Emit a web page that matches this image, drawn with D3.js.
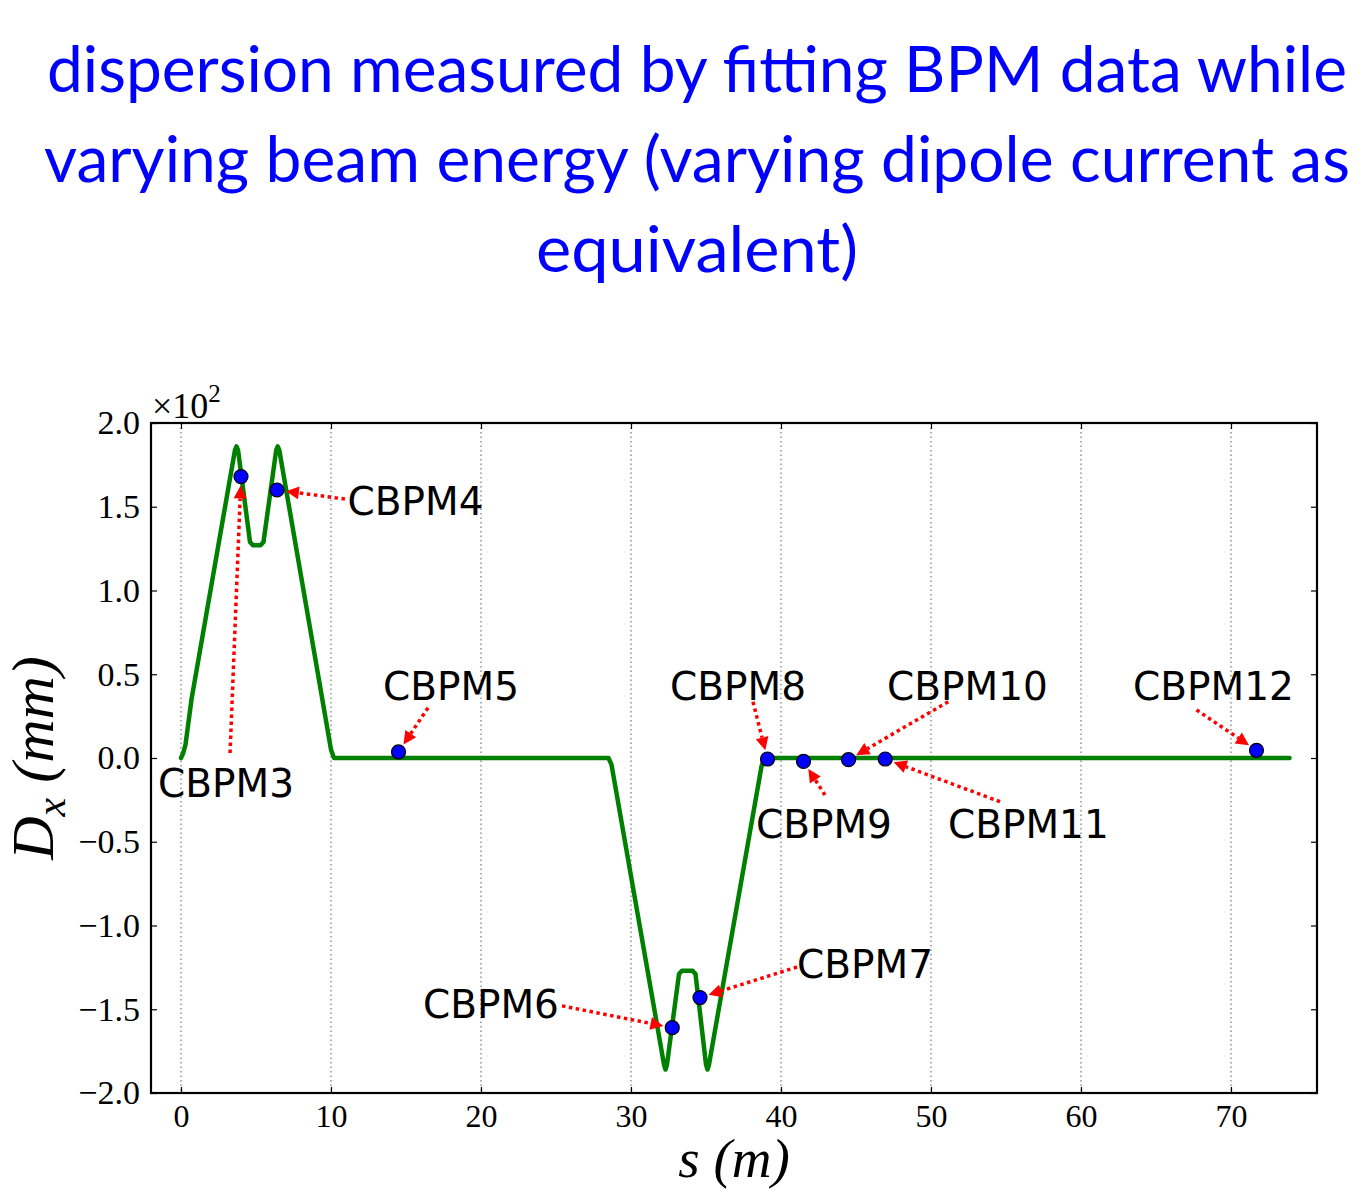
<!DOCTYPE html>
<html>
<head>
<meta charset="utf-8">
<script src="https://cdn.jsdelivr.net/npm/d3@7"></script>
<style>
  body { margin: 0; background: #fff; }
</style>
</head>
<body>
<div id="chart"></div>
<script>
// title lines
var titleLines = [
  "dispersion measured by fitting BPM data while",
  "varying beam energy (varying dipole current as",
  "equivalent)"
];

// dispersion curve, s in m, D in units of 10^2 mm
var curveS = [0, 0.15, 0.3, 0.7, 3.6, 3.7, 3.8, 4.6, 4.8, 5.3, 5.5, 6.35, 6.45, 6.55, 10.0, 10.2,
              28.5, 28.7, 32.2, 32.3, 32.4, 33.2, 33.4, 34.1, 34.3, 35.0, 35.1, 35.2, 38.7, 38.9, 73.9];
var curveD = [0, 0.03, 0.08, 0.35, 1.84, 1.86, 1.84, 1.29, 1.27, 1.27, 1.29, 1.84, 1.86, 1.84, 0.05, 0,
              0, -0.04, -1.83, -1.86, -1.83, -1.29, -1.27, -1.27, -1.29, -1.83, -1.86, -1.83, -0.05, 0, 0];

// measured BPM points
var bpmNames = ["CBPM3", "CBPM4", "CBPM5", "CBPM6", "CBPM7", "CBPM8", "CBPM9", "CBPM10", "CBPM11", "CBPM12"];
var bpmS = [4.0, 6.4, 14.5, 32.75, 34.6, 39.1, 41.5, 44.5, 46.95, 71.7];
var bpmD = [1.68, 1.60, 0.036, -1.61, -1.43, -0.006, -0.02, -0.01, -0.006, 0.046];

// annotation text anchors (left, baseline) and arrow tails, in data units
var labelS = [-1.53, 11.1, 13.47, 16.13, 41.07, 32.6, 38.33, 47.07, 51.13, 63.47];
var labelD = [-0.233, 1.45, 0.346, -1.552, -1.313, 0.346, -0.478, 0.346, -0.478, 0.346];
var tailS = [3.27, 10.93, 16.47, 25.4, 41.07, 38.13, 42.93, 51.15, 54.6, 67.7];
var tailD = [0.03, 1.546, 0.30, -1.48, -1.248, 0.336, -0.221, 0.336, -0.261, 0.287];

var sTicks = [0, 10, 20, 30, 40, 50, 60, 70];
var dTicks = [-2.0, -1.5, -1.0, -0.5, 0.0, 0.5, 1.0, 1.5, 2.0];

var svgWidth = 1362;
var svgHeight = 1190;
var plot = { left: 151, right: 1317, top: 423, bottom: 1093 };

var svg = d3.select("#chart")
  .append("svg")
  .attr("width", svgWidth)
  .attr("height", svgHeight);

// title
svg.append("g").selectAll("text")
  .data(titleLines)
  .enter()
  .append("text")
  .attr("x", 697)
  .attr("y", function(d, i) { return 92 + i * 90; })
  .attr("text-anchor", "middle")
  .attr("font-family", "Lato, 'Open Sans', sans-serif")
  .attr("font-size", 64)
  .attr("fill", "#0000ff")
  .attr("textLength", function(d, i) { return [1300, 1306, 322][i]; })
  .attr("lengthAdjust", "spacingAndGlyphs")
  .text(function(d) { return d; });

var x = d3.scaleLinear()
  .domain([-2, -2 + (plot.right - plot.left) / 15])
  .range([plot.left, plot.right]);

var y = d3.scaleLinear()
  .domain([-2, 2])
  .range([plot.bottom, plot.top]);

// vertical dotted grid
svg.append("g").selectAll("line")
  .data(sTicks)
  .enter()
  .append("line")
  .attr("x1", function(d) { return x(d); })
  .attr("x2", function(d) { return x(d); })
  .attr("y1", plot.top)
  .attr("y2", plot.bottom)
  .attr("stroke", "#777")
  .attr("stroke-width", 1.2)
  .attr("stroke-dasharray", "1.5,3");

var fmt = function(d) { return d3.format(".1f")(d).replace("-", "\u2212"); };
var serif = "'Liberation Serif', 'DejaVu Serif', serif";

// bottom axis
var gx = svg.append("g")
  .attr("transform", "translate(0," + plot.bottom + ")")
  .call(d3.axisBottom(x).tickValues(sTicks).tickSize(-6).tickPadding(11).tickSizeOuter(0));
// top axis ticks
var gxt = svg.append("g")
  .attr("transform", "translate(0," + plot.top + ")")
  .call(d3.axisTop(x).tickValues(sTicks).tickSize(-6).tickFormat("").tickSizeOuter(0));
// left axis
var gy = svg.append("g")
  .attr("transform", "translate(" + plot.left + ",0)")
  .call(d3.axisLeft(y).tickValues(dTicks).tickFormat(fmt).tickSize(-6).tickPadding(11).tickSizeOuter(0));
// right axis ticks
var gyr = svg.append("g")
  .attr("transform", "translate(" + plot.right + ",0)")
  .call(d3.axisRight(y).tickValues(dTicks).tickFormat("").tickSize(-6).tickSizeOuter(0));

[gx, gxt, gy, gyr].forEach(function(g) {
  g.select(".domain").remove();
  g.selectAll(".tick line").attr("stroke", "#000").attr("stroke-width", 1.2);
  g.selectAll("text")
    .attr("font-family", serif)
    .attr("fill", "#000");
});
gx.selectAll("text").attr("font-size", 32);
gy.selectAll("text").attr("font-size", 34);

// frame
svg.append("rect")
  .attr("x", plot.left)
  .attr("y", plot.top)
  .attr("width", plot.right - plot.left)
  .attr("height", plot.bottom - plot.top)
  .attr("fill", "none")
  .attr("stroke", "#000")
  .attr("stroke-width", 2.2);

// x10^2 offset text
var off = svg.append("text")
  .attr("x", plot.left + 1)
  .attr("y", 418)
  .attr("font-family", serif)
  .attr("font-size", 36)
  .attr("fill", "#000");
off.append("tspan").text("\u00d710");
off.append("tspan").attr("dy", -16).attr("font-size", 25).text("2");

// dispersion curve
var curve = curveS.map(function(s, i) { return [s, curveD[i]]; });
var line = d3.line()
  .x(function(d) { return x(d[0]); })
  .y(function(d) { return y(d[1]); });

svg.append("path")
  .datum(curve)
  .attr("d", line)
  .attr("fill", "none")
  .attr("stroke", "#008000")
  .attr("stroke-width", 4.5)
  .attr("stroke-linejoin", "round")
  .attr("stroke-linecap", "round");

// BPM markers
svg.append("g").selectAll("circle")
  .data(bpmS)
  .enter()
  .append("circle")
  .attr("cx", function(d) { return x(d); })
  .attr("cy", function(d, i) { return y(bpmD[i]); })
  .attr("r", 7)
  .attr("fill", "#0000ff")
  .attr("stroke", "#000")
  .attr("stroke-width", 1.2);

// annotation arrows
var ann = svg.append("g");
bpmNames.forEach(function(name, i) {
  var x0 = x(tailS[i]), y0 = y(tailD[i]);
  var x1 = x(bpmS[i]), y1 = y(bpmD[i]);
  var dx = x1 - x0, dy = y1 - y0;
  var len = Math.sqrt(dx * dx + dy * dy);
  var ux = dx / len, uy = dy / len;
  var tipX = x1 - ux * 9, tipY = y1 - uy * 9;
  var headLen = 13, headW = 6.5;
  var bx = tipX - ux * headLen, by = tipY - uy * headLen;

  ann.append("line")
    .attr("x1", x0).attr("y1", y0)
    .attr("x2", bx).attr("y2", by)
    .attr("stroke", "#ff0000")
    .attr("stroke-width", 3.5)
    .attr("stroke-dasharray", "3.5,3.5");

  ann.append("path")
    .attr("d", "M" + tipX + "," + tipY +
      "L" + (bx - uy * headW) + "," + (by + ux * headW) +
      "L" + (bx + uy * headW) + "," + (by - ux * headW) + "Z")
    .attr("fill", "#ff0000");

  ann.append("text")
    .attr("x", x(labelS[i]))
    .attr("y", y(labelD[i]))
    .attr("font-family", "'DejaVu Sans', 'Open Sans', sans-serif")
    .attr("font-size", 39)
    .attr("fill", "#000")
    .text(name);
});

// axis labels
var xl = svg.append("text")
  .attr("x", (plot.left + plot.right) / 2)
  .attr("y", 1177)
  .attr("text-anchor", "middle")
  .attr("font-family", serif)
  .attr("font-size", 55)
  .attr("font-style", "italic")
  .attr("fill", "#000")
  .text("s (m)");

var yl = svg.append("text")
  .attr("transform", "translate(53," + ((plot.top + plot.bottom) / 2) + ") rotate(-90)")
  .attr("text-anchor", "middle")
  .attr("font-family", serif)
  .attr("font-size", 60)
  .attr("font-style", "italic")
  .attr("fill", "#000");
yl.append("tspan").text("D");
yl.append("tspan").attr("dy", 12).attr("font-size", 42).text("x");
yl.append("tspan").attr("dy", -12).text(" (mm)");
</script>
</body>
</html>
